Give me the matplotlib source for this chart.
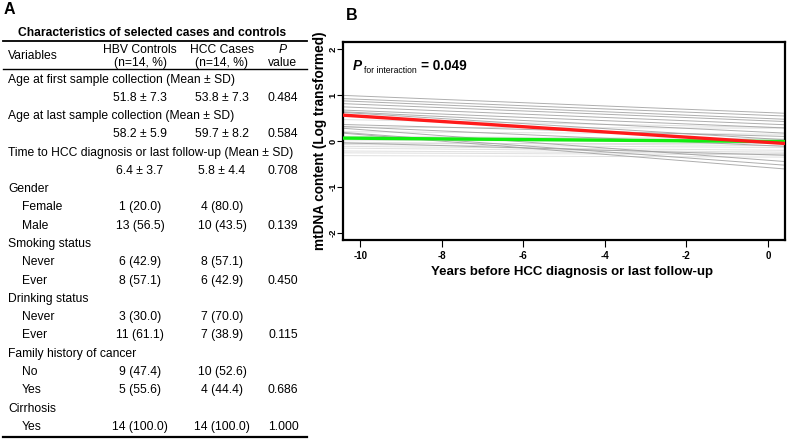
import matplotlib
matplotlib.use("Agg")
import matplotlib.pyplot as plt
from matplotlib.lines import Line2D

plt.rcParams['font.family'] = ['Liberation Sans', 'DejaVu Sans']

# ---------------- Panel A data ----------------
table_title = "Characteristics of selected cases and controls"
col_headers = ["Variables", "HBV Controls", "(n=14, %)", "HCC Cases", "(n=14, %)", "P", "value"]
row_labels = ["Age at first sample collection (Mean ± SD)", "",
              "Age at last sample collection (Mean ± SD)", "",
              "Time to HCC diagnosis or last follow-up (Mean ± SD)", "",
              "Gender", "Female", "Male",
              "Smoking status", "Never", "Ever",
              "Drinking status", "Never", "Ever",
              "Family history of cancer", "No", "Yes",
              "Cirrhosis", "Yes"]
row_indent = [0, 0, 0, 0, 0, 0, 0, 1, 1, 0, 1, 1, 0, 1, 1, 0, 1, 1, 0, 1]
hbv_values = ["", "51.8 ± 7.3", "", "58.2 ± 5.9", "", "6.4 ± 3.7",
              "", "1 (20.0)", "13 (56.5)", "", "6 (42.9)", "8 (57.1)",
              "", "3 (30.0)", "11 (61.1)", "", "9 (47.4)", "5 (55.6)",
              "", "14 (100.0)"]
hcc_values = ["", "53.8 ± 7.3", "", "59.7 ± 8.2", "", "5.8 ± 4.4",
              "", "4 (80.0)", "10 (43.5)", "", "8 (57.1)", "6 (42.9)",
              "", "7 (70.0)", "7 (38.9)", "", "10 (52.6)", "4 (44.4)",
              "", "14 (100.0)"]
p_values = ["", "0.484", "", "0.584", "", "0.708",
            "", "", "0.139", "", "", "0.450",
            "", "", "0.115", "", "", "0.686",
            "", "1.000"]

# ---------------- Panel B data ----------------
# individual fitted lines: value at x = -10 and at x = 0
case_start = [0.98, 0.91, 0.86, 0.80, 0.73, 0.66, 0.62, 0.60, 0.35, 0.30, 0.25, 0.16, 0.14, -0.05]
case_end = [0.62, 0.56, 0.49, 0.44, 0.37, 0.30, 0.19, 0.05, 0.11, -0.10, -0.42, -0.50, -0.58, -0.30]
ctrl_start = [0.46, 0.30, 0.20, 0.10, 0.08, 0.02, -0.03, -0.05, -0.08, -0.12, -0.16, -0.22, -0.26, -0.32]
ctrl_end = [0.30, 0.28, 0.15, 0.05, 0.02, -0.02, -0.10, -0.05, -0.14, -0.20, -0.24, -0.27, -0.30, -0.35]
red_line = [0.54, -0.03]    # HCC cases mean trend at x=-10, x=0
green_line = [0.06, -0.01]  # HBV controls mean trend at x=-10, x=0
x_ticks = [-10, -8, -6, -4, -2, 0]
y_ticks = [-2, -1, 0, 1, 2]

W, H = 787, 440
fig = plt.figure(figsize=(W / 100, H / 100), dpi=100)


def fx(px):
    return px / W


def fy(py):
    return 1 - py / H


# ---------------- Panel A ----------------
fs = 8.7
fig.text(fx(4), fy(10), "A", fontsize=11.5, fontweight='bold', va='center', ha='left')
fig.text(fx(152), fy(33), table_title, fontsize=fs, fontweight='bold', ha='center', va='center')
fig.add_artist(Line2D([fx(3), fx(307)], [fy(41.5), fy(41.5)], color='black', lw=1.3))
fig.text(fx(8), fy(56), col_headers[0], fontsize=fs, ha='left', va='center')
fig.text(fx(140), fy(50), col_headers[1], fontsize=fs, ha='center', va='center')
fig.text(fx(140), fy(63), col_headers[2], fontsize=fs, ha='center', va='center')
fig.text(fx(222), fy(50), col_headers[3], fontsize=fs, ha='center', va='center')
fig.text(fx(222), fy(63), col_headers[4], fontsize=fs, ha='center', va='center')
fig.text(fx(283), fy(50), col_headers[5], fontsize=fs, ha='center', va='center', style='italic')
fig.text(fx(283), fy(63), col_headers[6], fontsize=fs, ha='center', va='center')
fig.add_artist(Line2D([fx(3), fx(307)], [fy(69.5), fy(69.5)], color='black', lw=1.0))

y0, dy = 79.5, 18.28
for i, lab in enumerate(row_labels):
    yy = fy(y0 + i * dy)
    if lab:
        fig.text(fx(8 + 14 * row_indent[i]), yy, lab, fontsize=fs, ha='left', va='center')
    if hbv_values[i]:
        fig.text(fx(140), yy, hbv_values[i], fontsize=fs, ha='center', va='center')
    if hcc_values[i]:
        fig.text(fx(222), yy, hcc_values[i], fontsize=fs, ha='center', va='center')
    if p_values[i]:
        fig.text(fx(283), yy, p_values[i], fontsize=fs, ha='center', va='center')
fig.add_artist(Line2D([fx(3), fx(307)], [fy(436.5), fy(436.5)], color='black', lw=1.6))

# ---------------- Panel B ----------------
fig.text(fx(346), fy(15), "B", fontsize=11.5, fontweight='bold', va='center', ha='left')
left, right, top, bottom = 343, 785, 42, 240
ax = fig.add_axes([fx(left), fy(bottom), fx(right - left), (bottom - top) / H])

for s, e in zip(ctrl_start, ctrl_end):
    ax.axline((-10, s), (0, e), color='#d8d8d8', lw=0.7, alpha=0.8, zorder=1)
for s, e in zip(case_start, case_end):
    ax.axline((-10, s), (0, e), color='#9a9a9a', lw=0.7, alpha=0.8, zorder=2)
ax.axline((-10, green_line[0]), (0, green_line[1]), color='#11ee11', lw=2.4, zorder=3)
ax.axline((-10, red_line[0]), (0, red_line[1]), color='#ff1a1a', lw=2.4, zorder=4)

ax.set_xlim(-10.42, 0.42)
ax.set_ylim(-2.16, 2.16)
ax.set_xticks(x_ticks)
ax.set_yticks(y_ticks)
ax.set_xticklabels([str(t) for t in x_ticks], fontsize=7, fontweight='bold')
ax.set_yticklabels([str(t) for t in y_ticks], fontsize=6.8, fontweight='bold', rotation=90, va='center')
ax.tick_params(axis='both', direction='out', width=0.8)
ax.tick_params(axis='y', length=4.5, pad=-0.3)
ax.tick_params(axis='x', length=5, pad=3)
for sp in ax.spines.values():
    sp.set_linewidth(1.6)

ax.set_xlabel("Years before HCC diagnosis or last follow-up", fontsize=9.5, fontweight='bold')
ax.xaxis.set_label_coords((572 - left) / (right - left), -(266.5 - bottom) / (bottom - top))
ax.set_ylabel("mtDNA content (Log transformed)", fontsize=9.8, fontweight='bold')
ax.yaxis.set_label_coords((327 - left) / (right - left), 0.5)

fig.text(fx(353), fy(66), "P", fontsize=9.8, fontweight='bold', style='italic', ha='left', va='center')
fig.text(fx(364), fy(70.5), "for interaction", fontsize=6.2, ha='left', va='center')
fig.text(fx(421), fy(66), "= 0.049", fontsize=9.8, fontweight='bold', ha='left', va='center')

fig.savefig("out.png", dpi=100)
